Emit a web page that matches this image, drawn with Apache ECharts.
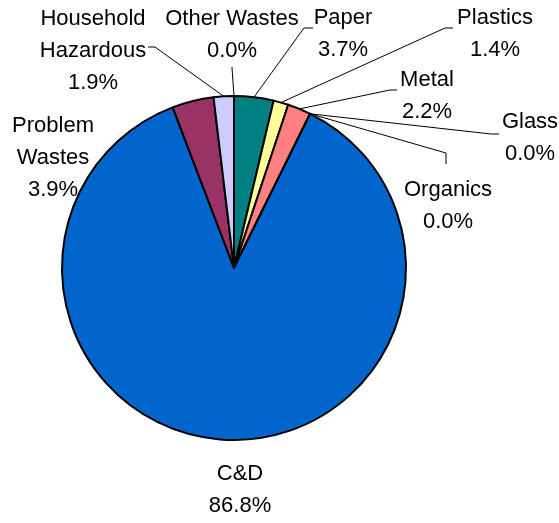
<!DOCTYPE html>
<html>
<head>
<meta charset="utf-8">
<style>html,body{margin:0;padding:0;background:#fff;}#c{width:559px;height:523px;}</style>
<script src="https://cdn.jsdelivr.net/npm/echarts@6/dist/echarts.min.js"></script>
</head>
<body>
<div id="c"></div>
<script>
const categories = ['Paper', 'Plastics', 'Metal', 'Glass', 'Organics', 'C&D', 'Problem\nWastes', 'Household\nHazardous', 'Other Wastes'];
const values = [3.7, 1.4, 2.2, 0.0, 0.0, 86.8, 3.9, 1.9, 0.0];

const palette = ['#008080', '#FFFF99', '#FF8080', '#FFFFFF', '#FFFFFF', '#0066CC', '#993366', '#CCCCFF', '#FFFFFF'];
// label placement (centre of text block) and leader line bends, in pixels
const labelPos = [
  {x: 343, y: 34, line: [[304, 28], [313, 28]]},
  {x: 495, y: 34, line: [[445, 28], [453, 28]]},
  {x: 427, y: 96, line: [[390, 90], [397, 90]]},
  {x: 530, y: 138, line: [[491, 134], [499, 134]]},
  {x: 448, y: 206, line: [[446, 153], [446, 164]]},
  {x: 240, y: 490, line: null},
  {x: 53, y: 158, line: null},
  {x: 93, y: 51, line: [[155, 47], [148, 47]]},
  {x: 232, y: 35, line: [[232, 68], [232, 67]]}
];

const chart = echarts.init(document.getElementById('c'), null, {renderer: 'canvas'});
const data = categories.map((n, i) => ({
  name: n,
  value: values[i],
  itemStyle: {color: palette[i]},
  labelLine: {show: labelPos[i].line !== null}
}));

chart.setOption({
  animation: false,
  series: [{
    type: 'pie',
    center: [234, 268],
    radius: 172,
    startAngle: 90,
    clockwise: true,
    avoidLabelOverlap: false,
    minShowLabelAngle: 0,
    data: data,
    itemStyle: {borderColor: '#000', borderWidth: 2},
    label: {
      show: true,
      position: 'outside',
      color: '#000',
      fontFamily: 'Liberation Sans',
      fontSize: 22,
      lineHeight: 32,
      align: 'center',
      formatter: p => p.name + '\n' + p.value.toFixed(1) + '%'
    },
    labelLine: {show: true, length: 10, length2: 10, lineStyle: {color: '#000', width: 1}},
    emphasis: {disabled: true},
    labelLayout: function (params) {
      const lp = labelPos[params.dataIndex];
      const res = {x: lp.x, y: lp.y, align: 'center', verticalAlign: 'middle'};
      if (lp.line && params.labelLinePoints) {
        res.labelLinePoints = [params.labelLinePoints[0], lp.line[0], lp.line[1]];
      }
      return res;
    }
  }]
});
</script>
</body>
</html>
